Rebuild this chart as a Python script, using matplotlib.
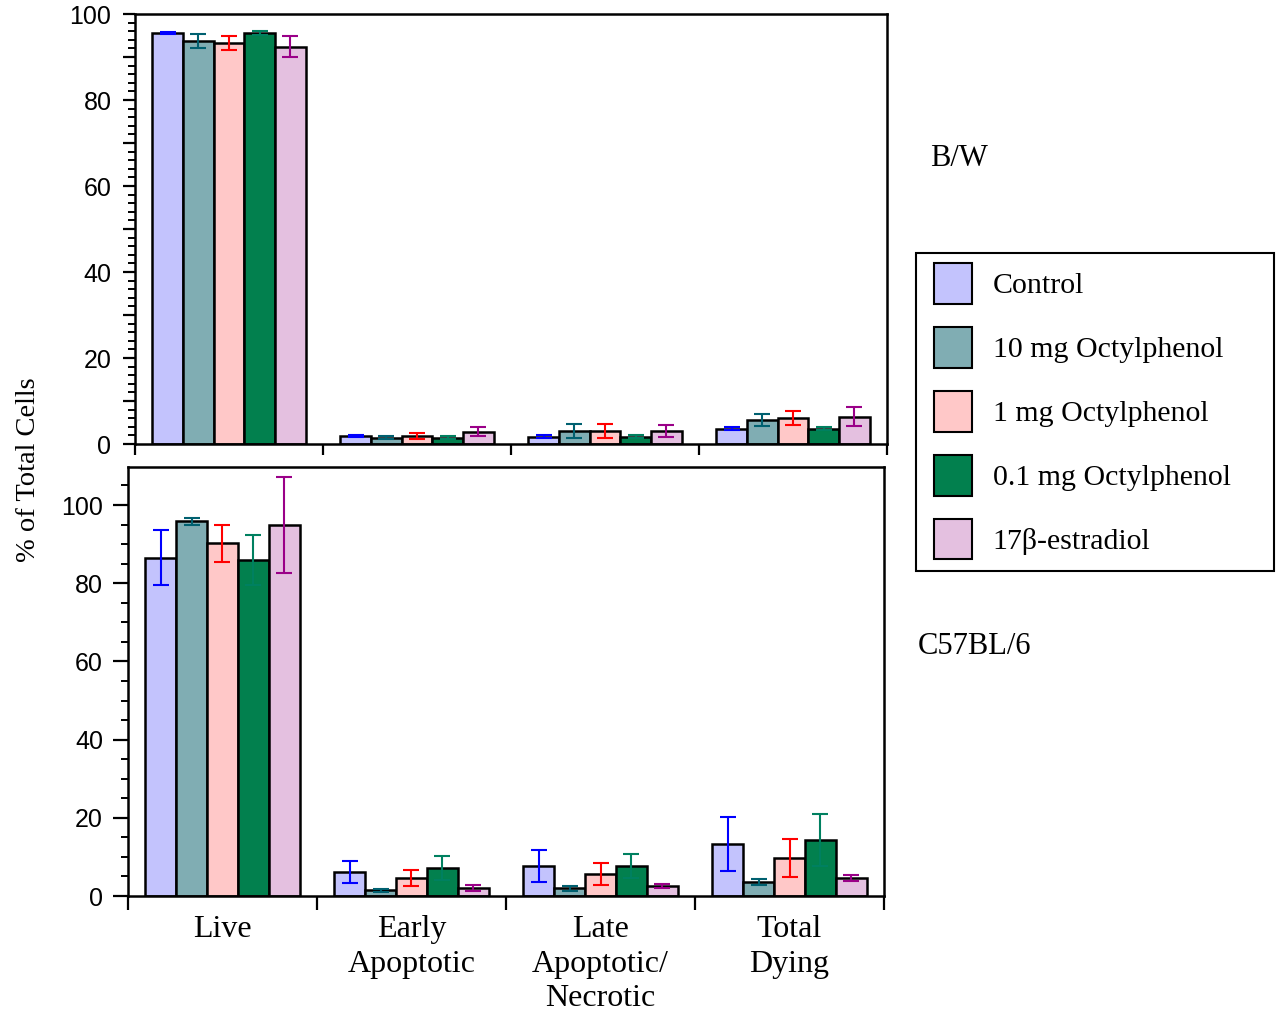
import numpy as np
import matplotlib
matplotlib.use('Agg')
import matplotlib.pyplot as plt
from matplotlib.patches import Patch, Rectangle
from matplotlib.ticker import MultipleLocator, FuncFormatter

# データ
groups = ['Live', 'Early\nApoptotic', 'Late\nApoptotic/\nNecrotic', 'Total\nDying']
treatments = ['Control', '10 mg Octylphenol', '1 mg Octylphenol',
              '0.1 mg Octylphenol', '17β-estradiol']

# B/W
bw_control = [95.6, 1.9, 1.7, 3.6]
bw_10mg = [93.8, 1.5, 3.1, 5.5]
bw_1mg = [93.3, 1.9, 3.1, 6.0]
bw_01mg = [95.6, 1.5, 1.7, 3.6]
bw_e2 = [92.4, 2.9, 3.1, 6.4]
bw_control_err = [0.3, 0.3, 0.3, 0.3]
bw_10mg_err = [1.6, 0.3, 1.6, 1.4]
bw_1mg_err = [1.6, 0.7, 1.6, 1.6]
bw_01mg_err = [0.4, 0.3, 0.3, 0.3]
bw_e2_err = [2.5, 1.0, 1.4, 2.3]

# C57BL/6
c57_control = [86.5, 6.2, 7.7, 13.3]
c57_10mg = [95.8, 1.5, 2.0, 3.6]
c57_1mg = [90.2, 4.6, 5.6, 9.7]
c57_01mg = [86.0, 7.2, 7.7, 14.3]
c57_e2 = [94.8, 2.0, 2.6, 4.6]
c57_control_err = [7.0, 2.8, 4.1, 6.9]
c57_10mg_err = [1.0, 0.4, 0.6, 0.8]
c57_1mg_err = [4.7, 2.0, 2.8, 4.9]
c57_01mg_err = [6.4, 3.0, 3.0, 6.6]
c57_e2_err = [12.3, 0.7, 0.6, 0.8]

fill_colors = ['#c3c3fd', '#80adb3', '#ffc8c8', '#02804e', '#e4c0e0']
err_colors = ['#0000ff', '#006070', '#ff0000', '#008060', '#9a0088']

bw_vals = [bw_control, bw_10mg, bw_1mg, bw_01mg, bw_e2]
bw_errs = [bw_control_err, bw_10mg_err, bw_1mg_err, bw_01mg_err, bw_e2_err]
c57_vals = [c57_control, c57_10mg, c57_1mg, c57_01mg, c57_e2]
c57_errs = [c57_control_err, c57_10mg_err, c57_1mg_err, c57_01mg_err, c57_e2_err]

SERIF = ['Liberation Serif', 'DejaVu Serif']
SANS = ['Liberation Sans', 'DejaVu Sans']

fig = plt.figure(figsize=(12.76, 10.11), dpi=100)
ax_top = fig.add_axes([0.1058, 0.5608, 0.5893, 0.4253])
ax_bot = fig.add_axes([0.1003, 0.1137, 0.5925, 0.4243])

w = 0.163
xg = np.arange(len(groups)) + 0.5


def draw_panel(ax, vals, errs, ymax, major_step, minor_step, major_len, pad, xtick_len):
    for j in range(len(treatments)):
        x = xg + (j - 2) * w
        ax.bar(x, vals[j], width=w, color=fill_colors[j], edgecolor='black',
               linewidth=1.8, zorder=2)
        ax.errorbar(x, vals[j], yerr=errs[j], fmt='none', ecolor=err_colors[j],
                    elinewidth=1.5, capsize=6, capthick=1.5, zorder=3)
    ax.set_xlim(0, 4)
    ax.set_ylim(0, ymax)
    ax.set_xticks([0, 1, 2, 3, 4])
    ax.set_xticklabels([])
    ax.yaxis.set_major_locator(MultipleLocator(major_step))
    ax.yaxis.set_minor_locator(MultipleLocator(minor_step))
    # 20刻みだけ数字を出す
    ax.yaxis.set_major_formatter(FuncFormatter(
        lambda v, p: '%d' % round(v) if round(v) % 20 == 0 else ''))
    ax.tick_params(axis='y', which='major', direction='out', length=major_len,
                   width=1.6, labelsize=18, pad=pad)
    ax.tick_params(axis='y', which='minor', direction='out', length=5, width=1.4)
    ax.tick_params(axis='x', which='major', direction='out', length=xtick_len,
                   width=1.6)
    for lab in ax.get_yticklabels():
        lab.set_family(SANS)
    for s in ax.spines.values():
        s.set_linewidth(1.8)


draw_panel(ax_top, bw_vals, bw_errs, 100, 10, 2, 9, 8, 8)
draw_panel(ax_bot, c57_vals, c57_errs, 109.7, 20, 5, 11, 7, 10)

# 下段のカテゴリ名
ax_bot.set_xticks(xg, minor=True)
ax_bot.set_xticklabels(groups, minor=True, family=SERIF, fontsize=23,
                       linespacing=1.25)
ax_bot.tick_params(axis='x', which='minor', length=0, pad=14)

fig.text(0.022, 0.535, '% of Total Cells', rotation=90, family=SERIF,
         fontsize=20.5, ha='center', va='center')

fig.text(930 / 1276, 1 - 158 / 1011, 'B/W', family=SERIF, fontsize=22,
         ha='left', va='center')
fig.text(918 / 1276, 1 - 647 / 1011, 'C57BL/6', family=SERIF, fontsize=22,
         ha='left', va='center')

# 凡例（枠は別に描く）
fig.patches.append(Rectangle((916 / 1276, 1 - 571 / 1011), 358 / 1276, 318 / 1011,
                             transform=fig.transFigure, fill=False,
                             edgecolor='black', linewidth=1.5))
handles = [Patch(facecolor=c, edgecolor='black', linewidth=1.5) for c in fill_colors]
leg = fig.legend(handles, treatments, loc='upper left',
                 bbox_to_anchor=(934 / 1276, 1 - 263 / 1011),
                 prop={'family': SERIF, 'size': 21.5},
                 frameon=False, handlelength=1.27, handleheight=1.73,
                 handletextpad=0.7, labelspacing=0.77, borderpad=0,
                 borderaxespad=0)

plt.savefig('out.png', dpi=100)
